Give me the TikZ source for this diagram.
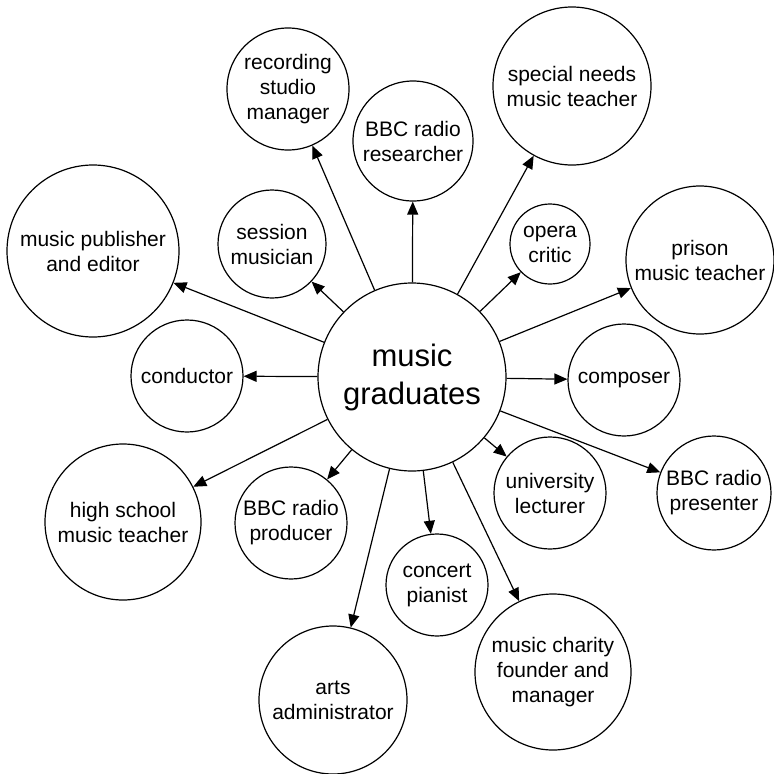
\documentclass[tikz,border=0pt]{standalone}
\usepackage{fontspec}
\setmainfont{Liberation Sans}
\usetikzlibrary{arrows.meta}
\begin{document}
\begin{tikzpicture}[x=1pt,y=-1pt,
  job/.style={draw, circle, line width=1.2pt, inner sep=0pt, align=center,
    font=\fontsize{21}{25}\selectfont, minimum size=#1},
  hub/.style={draw, circle, line width=1.2pt, inner sep=0pt, align=center,
    font=\fontsize{31}{38}\selectfont, minimum size=188pt},
  link/.style={line width=1.2pt, -{Triangle[length=13pt,width=11pt]}}]
\useasboundingbox (0,0) rectangle (774,774);
\node[hub] (main) at (412,377) {music\\graduates};
\node[job=122pt] (rec) at (288,89) {recording\\studio\\manager};
\node[job=120pt] (res) at (413,141) {BBC radio\\researcher};
\node[job=158pt] (spec) at (572,86) {special needs\\music teacher};
\node[job=108pt] (sess) at (272,244) {session\\musician};
\node[job=80pt] (opera) at (550,244) {opera\\critic};
\node[job=172pt] (pub) at (93,251) {music publisher\\and editor};
\node[job=148pt] (prison) at (700,260) {prison\\music teacher};
\node[job=112pt] (cond) at (187,376) {conductor};
\node[job=112pt] (comp) at (624,380) {composer};
\node[job=156pt] (hs) at (123,522) {high school\\music teacher};
\node[job=112pt] (prod) at (291,523) {BBC radio\\producer};
\node[job=112pt] (lect) at (550,493) {university\\lecturer};
\node[job=114pt] (pres) at (714,493) {BBC radio\\presenter};
\node[job=102pt] (pian) at (437,585) {concert\\pianist};
\node[job=156pt] (char) at (553,672) {music charity\\founder and\\manager};
\node[job=148pt] (arts) at (333,700) {arts\\administrator};
\foreach \t in {rec,res,spec,sess,opera,pub,prison,cond,comp,hs,prod,lect,pres,pian,char,arts}
  \draw[link] (main) -- (\t);
\end{tikzpicture}
\end{document}
